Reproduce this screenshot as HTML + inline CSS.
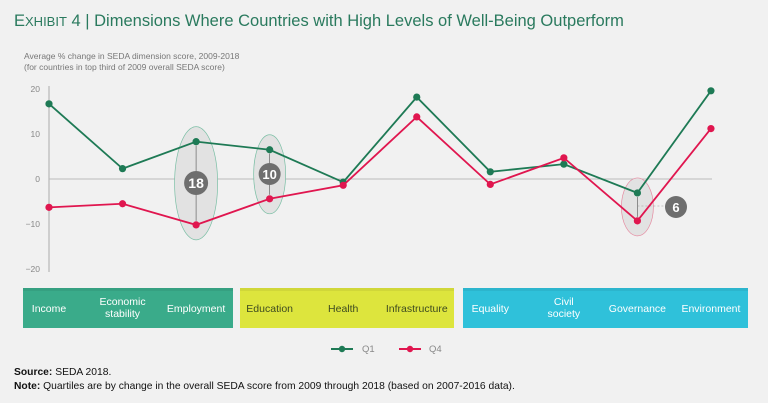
<!DOCTYPE html>
<html><head><meta charset="utf-8"><style>
body{margin:0;background:#f1f1f1;font-family:"Liberation Sans",sans-serif;}
#wrap{position:relative;width:768px;height:403px;overflow:hidden;background:#f1f1f1}
</style></head><body>
<div id="wrap">
<svg id="chart" width="768" height="403" xmlns="http://www.w3.org/2000/svg">
<text x="14" y="26" font-size="16.5" fill="#2a7a5e"><tspan>E</tspan><tspan font-size="13">XHIBIT</tspan> 4 | Dimensions Where Countries with High Levels of Well-Being Outperform</text>
<text x="24" y="59" font-size="8.5" fill="#777">Average % change in SEDA dimension score, 2009-2018</text>
<text x="24" y="70" font-size="8.5" fill="#777">(for countries in top third of 2009 overall SEDA score)</text>
<g id="axes"></g>
<g id="annot"></g>
<g id="lines"></g>
<g id="bands"></g>
<g>
<line x1="331" y1="349" x2="353" y2="349" stroke="#1e7a55" stroke-width="2"/><circle cx="342" cy="349" r="3.2" fill="#1e7a55"/>
<text x="362" y="352" font-size="9.5" fill="#888">Q1</text>
<line x1="399" y1="349" x2="421" y2="349" stroke="#e0164f" stroke-width="2"/><circle cx="410" cy="349" r="3.2" fill="#e0164f"/>
<text x="429" y="352" font-size="9.5" fill="#888">Q4</text>
</g>
<text x="14" y="375" font-size="10.3" fill="#111"><tspan font-weight="bold">Source:</tspan> SEDA 2018.</text>
<text x="14" y="389" font-size="10.3" fill="#111"><tspan font-weight="bold">Note:</tspan> Quartiles are by change in the overall SEDA score from 2009 through 2018 (based on 2007-2016 data).</text>
</svg>
</div>
<script>
const categories=["Income","Economic stability","Employment","Education","Health","Infrastructure","Equality","Civil society","Governance","Environment"];
const q1=[16.7,2.3,8.3,6.5,-0.7,18.2,1.6,3.3,-3.1,19.6];
const q4=[-6.3,-5.5,-10.2,-4.4,-1.4,13.8,-1.2,4.7,-9.3,11.2];
const yTicks=[20,10,0,-10,-20];
const gapLabels=["18","10","6"];
const NS="http://www.w3.org/2000/svg";
const x=i=>49+i*73.55;
const y=v=>179-v*4.5;
function mk(t,a,p){const e=document.createElementNS(NS,t);for(const k in a)e.setAttribute(k,a[k]);p.appendChild(e);return e;}
const axes=document.getElementById('axes');
mk('line',{x1:49,y1:86,x2:49,y2:272,stroke:'#aaa','stroke-width':1},axes);
mk('line',{x1:49,y1:y(0),x2:712,y2:y(0),stroke:'#bbb','stroke-width':1},axes);
yTicks.forEach(t=>{const e=mk('text',{x:40,y:y(t)+3,'font-size':8.5,fill:'#888','text-anchor':'end'},axes);e.textContent=t<0?'\u2212'+(-t):t;

});
const an=document.getElementById('annot');
function ell(i,col,lab){const cx=x(i),a=q1[i],b=q4[i];const top=Math.min(y(a),y(b))-15,bot=Math.max(y(a),y(b))+15;
const g=mk('g',{},an);


mk('ellipse',{cx:cx,cy:(top+bot)/2,rx:Math.max(16,(bot-top)*0.19),ry:(bot-top)/2,fill:'#e2e2e2',stroke:col,'stroke-width':0.7},g);
mk('line',{x1:cx,y1:y(a)+4,x2:cx,y2:y(b)-4,stroke:'#666','stroke-width':0.7},g);
return g;}
const g1=ell(2,'#7bbfa5','18');mk('circle',{cx:x(2),cy:183,r:12,fill:'#6e6e6e'},g1);
let t=mk('text',{x:x(2),y:188,'font-size':14,'font-weight':'bold',fill:'#fff','text-anchor':'middle'},g1);t.textContent=gapLabels[0];
const g2=ell(3,'#7bbfa5','10');mk('circle',{cx:x(3),cy:174,r:11,fill:'#6e6e6e'},g2);
t=mk('text',{x:x(3),y:179,'font-size':13,'font-weight':'bold',fill:'#fff','text-anchor':'middle'},g2);t.textContent=gapLabels[1];
const g3=ell(8,'#e58aa0','6');mk('line',{x1:x(8),y1:206,x2:665,y2:206,stroke:'#999','stroke-width':0.6,'stroke-dasharray':'2,2'},g3);
mk('circle',{cx:676,cy:207,r:11,fill:'#6e6e6e'},g3);
t=mk('text',{x:676,y:212,'font-size':13,'font-weight':'bold',fill:'#fff','text-anchor':'middle'},g3);t.textContent=gapLabels[2];
const ln=document.getElementById('lines');
[[q1,'#1e7a55','q1'],[q4,'#e0164f','q4']].forEach(([d,c,n])=>{
const p=mk('polyline',{points:d.map((v,i)=>x(i)+','+y(v)).join(' '),fill:'none',stroke:c,'stroke-width':1.8},ln);


d.forEach((v,i)=>{const c2=mk('circle',{cx:x(i),cy:y(v),r:3.6,fill:c},ln);

});});
const bd=document.getElementById('bands');
[[23,233,'#3aab8a','economics-band'],[240,454,'#dde53d','investments-band'],[463,748,'#2fc1da','sustainability-band']].forEach(([a,b,c,n])=>{
const r=mk('rect',{x:a,y:288,width:b-a,height:40,fill:c},bd);


mk('rect',{x:a,y:288,width:b-a,height:3,fill:'rgba(0,0,0,0.06)'},bd);});
categories.forEach((c,i)=>{const tc=(i>=3&&i<=5)?'#3d4a20':'#fff';
const cx=x(i);
const parts=c==='Economic stability'?['Economic','stability']:c==='Civil society'?['Civil','society']:[c];
const e=mk('text',{x:cx,'font-size':10.5,fill:tc,'text-anchor':'middle'},bd);


parts.forEach((p,k)=>{const s=mk('tspan',{x:cx,y:parts.length==1?312:305+k*12},e);s.textContent=p;});});
</script>
</body></html>
